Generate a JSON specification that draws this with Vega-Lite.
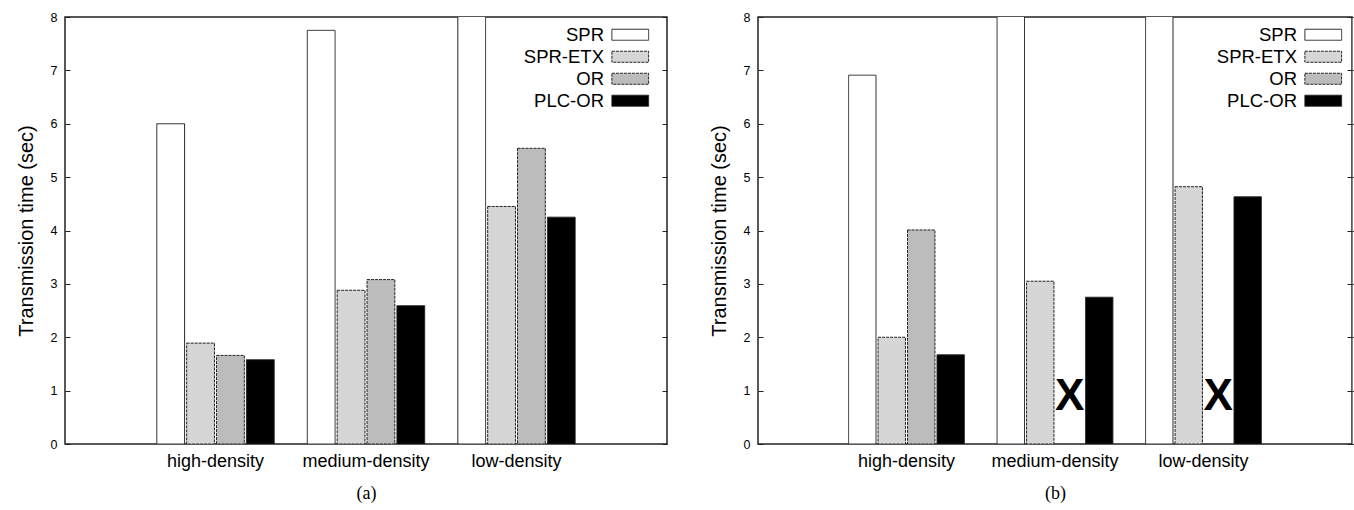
{
  "$schema": "https://vega.github.io/schema/vega-lite/v6.json",
  "padding": {"left": 15, "top": 10, "right": 0, "bottom": 0},
  "background": "white",
  "config": {
    "view": {"stroke": "#222", "strokeWidth": 1.5},
    "font": "Liberation Sans",
    "axis": {"grid": false, "labelColor": "black", "titleColor": "black", "tickColor": "#222"}
  },
  "datasets": {
    "a": [
      {"density": "high-density", "method": "SPR", "value": 6.0},
      {"density": "high-density", "method": "SPR-ETX", "value": 1.89},
      {"density": "high-density", "method": "OR", "value": 1.66},
      {"density": "high-density", "method": "PLC-OR", "value": 1.58},
      {"density": "medium-density", "method": "SPR", "value": 7.75},
      {"density": "medium-density", "method": "SPR-ETX", "value": 2.88},
      {"density": "medium-density", "method": "OR", "value": 3.08},
      {"density": "medium-density", "method": "PLC-OR", "value": 2.59},
      {"density": "low-density", "method": "SPR", "value": 12},
      {"density": "low-density", "method": "SPR-ETX", "value": 4.45},
      {"density": "low-density", "method": "OR", "value": 5.54},
      {"density": "low-density", "method": "PLC-OR", "value": 4.25}
    ],
    "b": [
      {"density": "high-density", "method": "SPR", "value": 6.91},
      {"density": "high-density", "method": "SPR-ETX", "value": 2.0},
      {"density": "high-density", "method": "OR", "value": 4.01},
      {"density": "high-density", "method": "PLC-OR", "value": 1.67},
      {"density": "medium-density", "method": "SPR", "value": 12},
      {"density": "medium-density", "method": "SPR-ETX", "value": 3.05},
      {"density": "medium-density", "method": "PLC-OR", "value": 2.75},
      {"density": "low-density", "method": "SPR", "value": 12},
      {"density": "low-density", "method": "SPR-ETX", "value": 4.82},
      {"density": "low-density", "method": "PLC-OR", "value": 4.63}
    ],
    "bx": [
      {"density": "medium-density", "method": "OR", "note": "X"},
      {"density": "low-density", "method": "OR", "note": "X"}
    ]
  },
  "spacing": 39,
  "resolve": {
    "scale": {"x": "independent", "y": "independent", "xOffset": "independent", "fill": "independent", "strokeDash": "independent"},
    "legend": {"fill": "independent"}
  },
  "hconcat": [
    {
      "width": 602,
      "height": 427,
      "resolve": {"axis": {"y": "independent"}},
      "layer": [
        {
          "data": {"name": "a"},
          "mark": {"type": "bar", "clip": true, "stroke": "#222", "strokeWidth": 1},
          "encoding": {
            "x": {"field": "density", "type": "nominal",
              "scale": {"domain": ["high-density", "medium-density", "low-density"], "paddingInner": 0.22, "paddingOuter": 0.61},
              "axis": {"title": "(a)", "labelAngle": 0, "ticks": false, "domain": false, "labelFontSize": 18, "labelPadding": 8,
                "titleFont": "Liberation Serif", "titleFontSize": 18, "titleFontWeight": "normal", "titlePadding": 14}},
            "xOffset": {"field": "method", "type": "nominal",
              "scale": {"domain": ["SPR", "SPR-ETX", "OR", "PLC-OR"], "paddingInner": 0.07, "paddingOuter": 0}},
            "y": {"field": "value", "type": "quantitative",
              "scale": {"domain": [0, 8], "nice": false},
              "axis": {"title": "Transmission time (sec)", "titleFontSize": 20, "titleFontWeight": "normal", "titlePadding": 14,
                "values": [0, 1, 2, 3, 4, 5, 6, 7, 8], "tickSize": -5, "labelPadding": 13, "labelFontSize": 12.5, "domain": false}},
            "fill": {"field": "method", "type": "nominal",
              "scale": {"domain": ["SPR", "SPR-ETX", "OR", "PLC-OR"], "range": ["#ffffff", "#d6d6d6", "#bcbcbc", "#000000"]},
              "legend": {"title": null, "orient": "none", "legendX": 556, "legendY": 8.5, "symbolType": "M-3,-0.9H3V0.9H-3Z",
                "symbolSize": 150, "symbolStrokeColor": "#222", "symbolStrokeWidth": 1, "symbolOpacity": 1, "labelFontSize": 18.5,
                "labelAlign": "right", "labelOffset": -35.5, "rowPadding": 3, "labelColor": "black", "labelLimit": 0}},
            "strokeDash": {"field": "method", "type": "nominal",
              "scale": {"domain": ["SPR", "SPR-ETX", "OR", "PLC-OR"], "range": [[1, 0], [3, 1], [3, 1], [1, 0]]},
              "legend": null}
          }
        },
        {
          "data": {"name": "a"},
          "mark": {"type": "point", "opacity": 0, "clip": true},
          "encoding": {
            "y": {"field": "value", "type": "quantitative", "scale": {"domain": [0, 8], "nice": false},
              "axis": {"orient": "right", "labels": false, "title": null, "tickSize": -5, "domain": false,
                "values": [0, 1, 2, 3, 4, 5, 6, 7, 8]}}
          }
        }
      ]
    },
    {
      "width": 594,
      "height": 427,
      "resolve": {"axis": {"y": "independent"}},
      "layer": [
        {
          "data": {"name": "b"},
          "mark": {"type": "bar", "clip": true, "stroke": "#222", "strokeWidth": 1},
          "encoding": {
            "x": {"field": "density", "type": "nominal",
              "scale": {"domain": ["high-density", "medium-density", "low-density"], "paddingInner": 0.22, "paddingOuter": 0.61},
              "axis": {"title": "(b)", "labelAngle": 0, "ticks": false, "domain": false, "labelFontSize": 18, "labelPadding": 8,
                "titleFont": "Liberation Serif", "titleFontSize": 18, "titleFontWeight": "normal", "titlePadding": 14}},
            "xOffset": {"field": "method", "type": "nominal",
              "scale": {"domain": ["SPR", "SPR-ETX", "OR", "PLC-OR"], "paddingInner": 0.07, "paddingOuter": 0}},
            "y": {"field": "value", "type": "quantitative",
              "scale": {"domain": [0, 8], "nice": false},
              "axis": {"title": "Transmission time (sec)", "titleFontSize": 20, "titleFontWeight": "normal", "titlePadding": 14,
                "values": [0, 1, 2, 3, 4, 5, 6, 7, 8], "tickSize": -5, "labelPadding": 13, "labelFontSize": 12.5, "domain": false}},
            "fill": {"field": "method", "type": "nominal",
              "scale": {"domain": ["SPR", "SPR-ETX", "OR", "PLC-OR"], "range": ["#ffffff", "#d6d6d6", "#bcbcbc", "#000000"]},
              "legend": {"title": null, "orient": "none", "legendX": 556, "legendY": 8.5, "symbolType": "M-3,-0.9H3V0.9H-3Z",
                "symbolSize": 150, "symbolStrokeColor": "#222", "symbolStrokeWidth": 1, "symbolOpacity": 1, "labelFontSize": 18.5,
                "labelAlign": "right", "labelOffset": -35.5, "rowPadding": 3, "labelColor": "black", "labelLimit": 0}},
            "strokeDash": {"field": "method", "type": "nominal",
              "scale": {"domain": ["SPR", "SPR-ETX", "OR", "PLC-OR"], "range": [[1, 0], [3, 1], [3, 1], [1, 0]]},
              "legend": null}
          }
        },
        {
          "data": {"name": "bx"},
          "mark": {"type": "text", "fontSize": 44, "fontWeight": "bold", "baseline": "middle", "align": "center", "color": "black"},
          "encoding": {
            "x": {"field": "density", "type": "nominal"},
            "xOffset": {"field": "method", "type": "nominal"},
            "y": {"datum": 0.88, "type": "quantitative"},
            "text": {"field": "note"}
          }
        },
        {
          "data": {"name": "b"},
          "mark": {"type": "point", "opacity": 0, "clip": true},
          "encoding": {
            "y": {"field": "value", "type": "quantitative", "scale": {"domain": [0, 8], "nice": false},
              "axis": {"orient": "right", "labels": false, "title": null, "tickSize": -5, "domain": false,
                "values": [0, 1, 2, 3, 4, 5, 6, 7, 8]}}
          }
        }
      ]
    }
  ]
}
